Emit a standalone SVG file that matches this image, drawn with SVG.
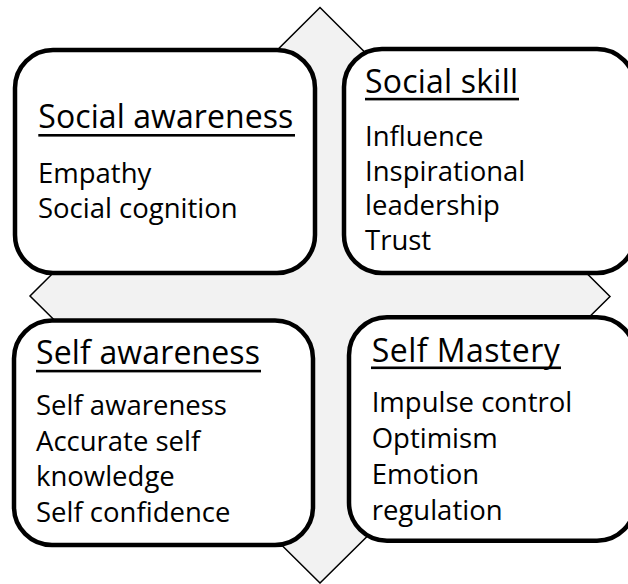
<svg xmlns="http://www.w3.org/2000/svg" width="628" height="584" viewBox="0 0 628 584">
  <style>
    .card { fill: #ffffff; stroke: #000000; stroke-width: 4.5; }
    .head { font-family: "Open Sans", "Liberation Sans", sans-serif; font-size: 32px; fill: #000000; }
    .item { font-family: "Open Sans", "Liberation Sans", sans-serif; font-size: 27.5px; fill: #000000; }
    .rule { fill: #000000; }
  </style>
  <rect width="628" height="584" fill="#ffffff"/>

  <!-- background diamond behind the four quadrants -->
  <g id="backdrop">
    <polygon points="320,7.5 610,296.5 320,583 30,296" fill="#f2f2f2" stroke="#000000" stroke-width="1.5" stroke-linejoin="miter"/>
  </g>

  <g id="connectors"></g>

  <g id="social-awareness">
    <rect class="card" x="15" y="50" width="300" height="223" rx="38" ry="38"/>
    <text class="head" x="38.3" y="128.3" textLength="255" lengthAdjust="spacing">Social awareness</text>
    <rect class="rule" x="38.3" y="134" width="256.7" height="2.6"/>
    <text class="item" x="38" y="183.3">Empathy</text>
    <text class="item" x="38" y="217.5">Social cognition</text>
  </g>

  <g id="social-skill">
    <rect class="card" x="344" y="49" width="291" height="224" rx="38" ry="38"/>
    <text class="head" x="365" y="93.3" textLength="153" lengthAdjust="spacing">Social skill</text>
    <rect class="rule" x="365" y="97.8" width="154" height="2.6"/>
    <text class="item" x="365" y="145.7">Influence</text>
    <text class="item" x="365" y="180.5">Inspirational</text>
    <text class="item" x="365" y="215.3">leadership</text>
    <text class="item" x="365" y="250">Trust</text>
  </g>

  <g id="self-awareness">
    <rect class="card" x="14" y="320.5" width="299" height="224.5" rx="38" ry="38"/>
    <text class="head" x="36" y="364" textLength="224" lengthAdjust="spacing">Self awareness</text>
    <rect class="rule" x="36" y="369.8" width="225" height="2.6"/>
    <text class="item" x="36" y="415">Self awareness</text>
    <text class="item" x="36" y="450.5">Accurate self</text>
    <text class="item" x="36" y="486.2">knowledge</text>
    <text class="item" x="36" y="521.7">Self confidence</text>
  </g>

  <g id="self-mastery">
    <rect class="card" x="349" y="317.3" width="286" height="223.5" rx="38" ry="38"/>
    <text class="head" x="371.7" y="361.7" textLength="188" lengthAdjust="spacing">Self Mastery</text>
    <rect class="rule" x="371" y="366.5" width="190" height="2.6"/>
    <text class="item" x="371.7" y="411.7">Impulse control</text>
    <text class="item" x="371.7" y="447.5">Optimism</text>
    <text class="item" x="371.7" y="484">Emotion</text>
    <text class="item" x="371.7" y="520">regulation</text>
  </g>
</svg>
